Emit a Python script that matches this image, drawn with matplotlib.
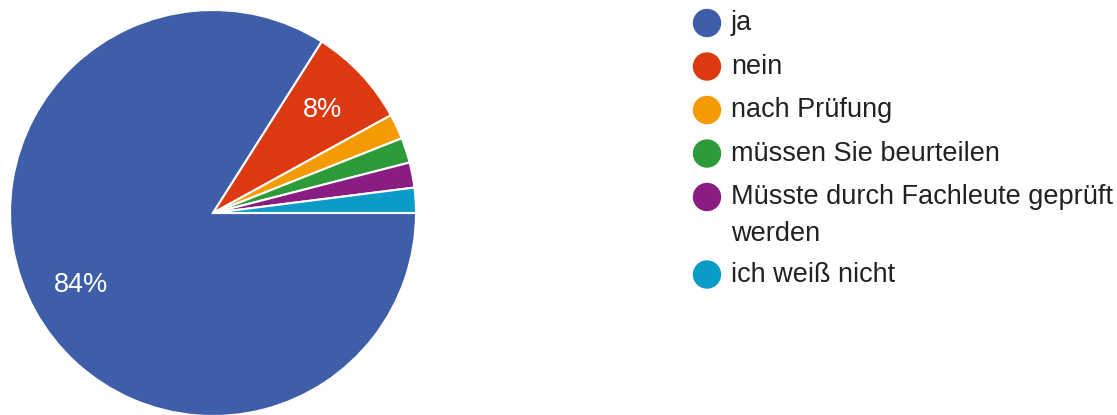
import matplotlib.pyplot as plt
from matplotlib.patches import Circle

plt.rcParams['font.family'] = ['Liberation Sans', 'DejaVu Sans']

# answers (counts, 50 replies)
labels = ['ja', 'nein', 'nach Prüfung', 'müssen Sie beurteilen',
          'Müsste durch Fachleute geprüft\nwerden', 'ich weiß nicht']
counts = [42, 4, 1, 1, 1, 1]
colors = ['#3f5ea9', '#dc3912', '#f59a00', '#2d9b3a', '#8a1d82', '#0b9bc7']

W, H = 1117, 415
fig = plt.figure(figsize=(W / 100, H / 100), dpi=100)

# pie: centre (213, 213) px, radius ~203 px
ax = fig.add_axes([10 / W, (H - 213 - 203) / H, 406 / W, 406 / H])
wedges, texts, autotexts = ax.pie(
    counts, colors=colors, startangle=0, counterclock=False,
    autopct=lambda p: f'{p:.0f}%' if p > 5 else '', pctdistance=0.74,
    wedgeprops=dict(edgecolor='white', linewidth=1.5),
    textprops=dict(color='white', fontsize=19.5))
ax.set_xlim(-1, 1)
ax.set_ylim(-1, 1)
ax.set_aspect('auto')
for w in wedges:
    w.set_clip_on(False)

# legend drawn by hand so the dot sits on the first line
lg = fig.add_axes([0, 0, 1, 1])
lg.set_xlim(0, W)
lg.set_ylim(H, 0)
lg.axis('off')
y = 23
for lab, c in zip(labels, colors):
    lg.add_patch(Circle((707, y), 13.5, color=c))
    lines = lab.split('\n')
    for k, line in enumerate(lines):
        lg.text(731, y + 37 * k, line, fontsize=19.5, color='#222222',
                va='center', ha='left')
    y += 43.5 + 34 * (len(lines) - 1)

fig.savefig('out.png', dpi=100)
